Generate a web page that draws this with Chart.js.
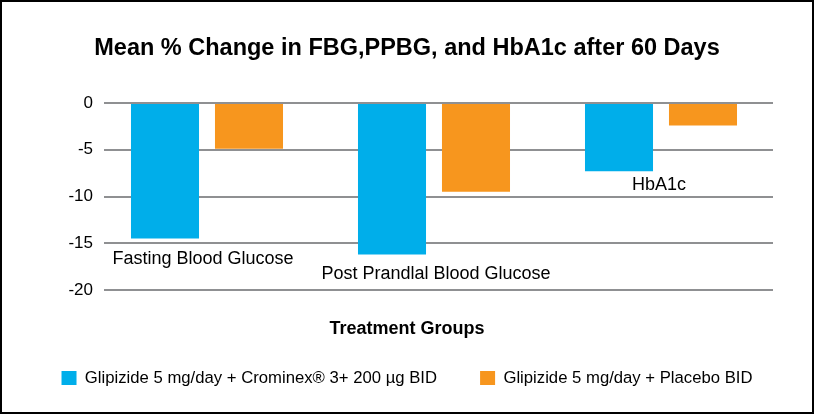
<!DOCTYPE html>
<html><head><meta charset="utf-8">
<script src="https://cdn.jsdelivr.net/npm/chart.js@4.4.1/dist/chart.umd.min.js"></script>
<style>html,body{margin:0;padding:0;background:#fff;overflow:hidden}canvas{display:block}</style>
</head><body>
<canvas id="c" width="814" height="414"></canvas>
<script>
const categories = ['Fasting Blood Glucose', 'Post Prandlal Blood Glucose', 'HbA1c'];
const seriesNames = ['Glipizide 5 mg/day + Crominex® 3+ 200 µg BID', 'Glipizide 5 mg/day + Placebo BID'];
const crominexValues = [-14.5, -16.2, -7.3];
const placeboValues = [-4.9, -9.5, -2.4];
const yTicks = [-20, -15, -10, -5, 0];
const chartTitle = 'Mean % Change in FBG,PPBG, and HbA1c after 60 Days';
const axisTitle = 'Treatment Groups';

const FONT = "'Liberation Sans', Arial, Helvetica, sans-serif";
Chart.defaults.font.family = FONT;
Chart.defaults.color = '#000';

// label placement styling (pixel nudges below the blue bar end)
const labelShiftX = [-4, 2, -2];
const labelShiftY = [20.7, 19.2, 13.4];

const catLabels = {
  id: 'catLabels',
  afterDatasetsDraw(chart) {
    const {ctx, scales: {x, y}} = chart;
    ctx.save();
    ctx.font = '18px ' + FONT;
    ctx.fillStyle = '#000';
    ctx.textAlign = 'center';
    ctx.textBaseline = 'middle';
    categories.forEach((c, i) => {
      const px = x.getPixelForValue(i) + labelShiftX[i];
      const py = y.getPixelForValue(crominexValues[i]) + labelShiftY[i];
      ctx.fillText(c, px, py);
    });
    ctx.restore();
  }
};
const frame = {
  id: 'frame',
  beforeDraw(chart) {
    const ctx = chart.ctx; ctx.save(); ctx.fillStyle = '#fff';
    ctx.fillRect(0, 0, chart.width, chart.height); ctx.restore();
  },
  afterDraw(chart) {
    const ctx = chart.ctx; ctx.save(); ctx.strokeStyle = '#000'; ctx.lineWidth = 2;
    ctx.strokeRect(1, 1, chart.width - 2, chart.height - 2); ctx.restore();
  }
};

new Chart(document.getElementById('c'), {
  type: 'bar',
  data: {
    datasets: [
      {label: seriesNames[0], data: crominexValues.map((v, i) => ({x: i, y: v})), backgroundColor: '#00AEEA', borderWidth: 0},
      {label: seriesNames[1], data: placeboValues.map((v, i) => ({x: i, y: v})), backgroundColor: '#F7961E', borderWidth: 0}
    ]
  },
  options: {
    responsive: false,
    animation: false,
    devicePixelRatio: 1,
    categoryPercentage: 0.74,
    barPercentage: 0.81,
    layout: {padding: {left: 0, right: 0, top: 0, bottom: 17.65}},
    scales: {
      x: {
        type: 'linear', min: -0.45374, max: 2.4934, offset: false,
        grid: {display: false, offset: false}, border: {display: false}, ticks: {display: false},
        afterBuildTicks(s) { s.ticks = categories.map((c, i) => ({value: i})); },
        afterFit(s) { s.height = 30; }
      },
      y: {
        min: -20, max: 0,
        afterBuildTicks(s) { s.ticks = yTicks.map(v => ({value: v})); },
        ticks: {padding: 11, font: {size: 17}, color: '#000'},
        grid: {color: '#8f9092', lineWidth: 2, drawTicks: false},
        border: {display: false},
        afterFit(s) { s.width = 104; }
      },
      yR: {
        position: 'right', display: true,
        grid: {display: false}, border: {display: false}, ticks: {display: false},
        afterFit(s) { s.width = 41; }
      }
    },
    plugins: {
      title: {display: true, text: chartTitle, font: {size: 23.5, weight: 'bold'}, padding: {top: 34, bottom: 40.8}, color: '#000'},
      legend: {
        position: 'bottom',
        title: {display: true, text: axisTitle, font: {size: 18, weight: 'bold'}, padding: {top: 0, bottom: -15.05}, color: '#000'},
        labels: {boxWidth: 15, boxHeight: 14, padding: 43.1, font: {size: 16.7}, color: '#000'}
      },
      tooltip: {enabled: false}
    }
  },
  plugins: [frame, catLabels]
});
</script>
</body></html>
